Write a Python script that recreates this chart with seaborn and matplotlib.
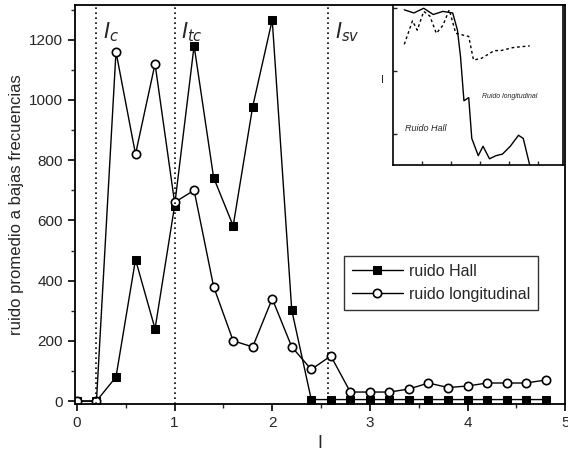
import numpy as np
import pandas as pd
import matplotlib
matplotlib.use("Agg")
import matplotlib.pyplot as plt
import seaborn as sns

sns.set_theme(style="ticks")
plt.rcParams['font.family'] = ['Liberation Sans', 'DejaVu Sans']

current = [0.0, 0.2, 0.4, 0.6, 0.8, 1.0, 1.2, 1.4, 1.6, 1.8, 2.0, 2.2, 2.4, 2.6,
           2.8, 3.0, 3.2, 3.4, 3.6, 3.8, 4.0, 4.2, 4.4, 4.6, 4.8]
hall = [0, 0, 80, 470, 240, 648, 1180, 742, 582, 978, 1266, 302, 5, 5,
        5, 5, 5, 5, 5, 5, 5, 5, 5, 5, 5]
longit = [0, 0, 1160, 820, 1120, 660, 700, 380, 200, 180, 340, 180, 105, 150,
          30, 30, 30, 40, 60, 45, 50, 60, 60, 60, 70]
vlines = [0.2, 1.0, 2.57]
vlabels = ["$I_c$", "$I_{tc}$", "$I_{sv}$"]

inset_hall_x = [0.33, 0.61, 0.9, 1.18, 1.46, 1.75, 1.89, 1.98, 2.08, 2.22, 2.31, 2.5, 2.64, 2.83, 3.02, 3.21, 3.44, 3.68, 3.82, 4.01]
inset_hall_y = [0.99, 0.97, 1.0, 0.96, 0.98, 0.97, 0.86, 0.69, 0.41, 0.43, 0.17, 0.06, 0.12, 0.04, 0.06, 0.07, 0.12, 0.19, 0.17, 0.0]
inset_long_x = [0.33, 0.57, 0.71, 0.9, 1.08, 1.27, 1.46, 1.65, 1.84, 2.22, 2.36, 2.59, 2.97, 3.16, 3.54, 4.01]
inset_long_y = [0.77, 0.92, 0.86, 0.98, 0.95, 0.84, 0.89, 0.99, 0.84, 0.82, 0.67, 0.68, 0.73, 0.73, 0.75, 0.76]

df = pd.DataFrame({"I": current, "hall": hall, "long": longit})

fig = plt.figure(figsize=(5.68, 4.65), dpi=100)
ax = fig.add_axes([0.132, 0.131, 0.863, 0.858])

sns.lineplot(data=df, x="I", y="hall", ax=ax, color="black", lw=1.0,
             marker="s", markersize=5.5, markerfacecolor="black",
             markeredgecolor="black", label="ruido Hall")
sns.lineplot(data=df, x="I", y="long", ax=ax, color="black", lw=1.0,
             marker="o", markersize=6, markerfacecolor="white",
             markeredgecolor="black", markeredgewidth=1.2,
             label="ruido longitudinal")

for xv, lab in zip(vlines, vlabels):
    ax.axvline(xv, color="black", ls=(0, (1, 2)), lw=1.2)
    ax.text(xv + 0.07, 1225, lab, fontsize=15, fontstyle="italic", va="center")

ax.set_xlim(-0.02, 5)
ax.set_ylim(-10, 1315)
ax.set_xticks([0, 1, 2, 3, 4, 5])
ax.set_xticks(np.arange(0, 5.01, 0.5), minor=True)
ax.set_yticks(np.arange(0, 1201, 200))
ax.set_yticks(np.arange(0, 1301, 100), minor=True)
ax.tick_params(direction="out", labelsize=11, color="black", width=1.2, length=5)
ax.tick_params(which="minor", direction="out", length=3, width=1)
for s in ax.spines.values():
    s.set_linewidth(1.3)
    s.set_color("black")
ax.set_xlabel("I", fontsize=13)
ax.set_ylabel("ruido promedio a bajas frecuencias", fontsize=12)

leg = ax.legend(loc="upper left", bbox_to_anchor=(0.548, 0.372), frameon=True,
                fancybox=False, edgecolor="black", fontsize=11.5,
                handlelength=3.2, handletextpad=0.4, borderpad=0.5,
                labelspacing=0.5, borderaxespad=0)
leg.get_frame().set_linewidth(1.0)

iax = fig.add_axes([0.692, 0.645, 0.300, 0.344])
sns.lineplot(x=inset_hall_x, y=inset_hall_y, ax=iax, color="black", lw=1.0)
sns.lineplot(x=inset_long_x, y=inset_long_y, ax=iax, color="black", lw=1.0,
             ls=(0, (2, 2)))
iax.set_xlim(0, 5)
iax.set_ylim(0, 1.02)
iax.set_xticks([0.85, 1.7, 2.55, 3.4, 4.25])
iax.set_yticks([0.2, 0.6, 1.0])
iax.set_xticklabels([])
iax.set_yticklabels([])
iax.tick_params(direction="in", length=3, width=1)
iax.text(2.6, 0.43, "Ruido longitudinal", fontsize=5, fontstyle="italic")
iax.text(0.35, 0.22, "Ruido Hall", fontsize=6.5, fontstyle="italic")
iax.annotate("", xy=(1.7, 0.51), xytext=(1.0, 0.37),
             arrowprops=dict(arrowstyle="-", connectionstyle="arc3,rad=-0.4", lw=1))
iax.annotate("", xy=(3.5, 0.67), xytext=(3.1, 0.5),
             arrowprops=dict(arrowstyle="-", connectionstyle="arc3,rad=0.4", lw=1))
iax.set_ylabel("I", fontsize=8, rotation=0, labelpad=4)
for s in iax.spines.values():
    s.set_linewidth(1.2)
    s.set_color("black")

fig.savefig("out.png", dpi=100)
